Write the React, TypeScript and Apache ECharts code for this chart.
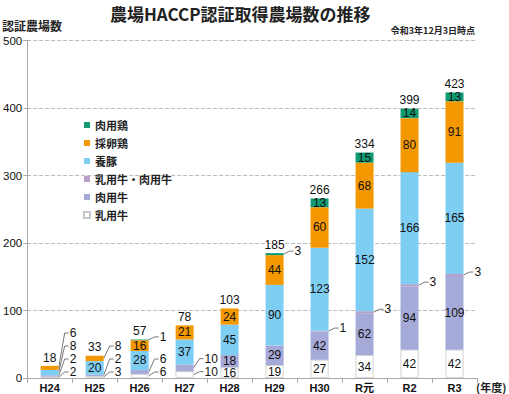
import React, { useEffect, useRef } from 'react';
import * as echarts from 'echarts';

const categories = ['H24', 'H25', 'H26', 'H27', 'H28', 'H29', 'H30', 'R元', 'R2', 'R3'];
const dairy = [2, 3, 6, 10, 16, 19, 27, 34, 42, 42]; // 乳用牛
const beef = [2, 2, 6, 10, 18, 29, 42, 62, 94, 109]; // 肉用牛
const dairyBeef = [0, 0, 0, 0, 0, 0, 1, 3, 3, 3]; // 乳用牛・肉用牛
const pig = [8, 20, 28, 37, 45, 90, 123, 152, 166, 165]; // 養豚
const layer = [6, 8, 16, 21, 24, 44, 60, 68, 80, 91]; // 採卵鶏
const broiler = [0, 0, 1, 0, 0, 3, 13, 15, 14, 13]; // 肉用鶏
const totals = [18, 33, 57, 78, 103, 185, 266, 334, 399, 423];
const yMin = 0;
const yMax = 500;
const yInterval = 100;

const FONT = '"Liberation Sans", "Noto Sans CJK JP", sans-serif';
const JP = '"Noto Sans CJK JP", sans-serif';
const BAR_W = 18;
const INSIDE_MIN = 12;
const NUM_SIZE = 12;

const stackDefs = [
  { name: '乳用牛', data: dairy, color: '#ffffff', border: '#c8c8c8' },
  { name: '肉用牛', data: beef, color: '#a5aad8' },
  { name: '乳用牛・肉用牛', data: dairyBeef, color: '#b9a0c9' },
  { name: '養豚', data: pig, color: '#7ecef4' },
  { name: '採卵鶏', data: layer, color: '#f39800' },
  { name: '肉用鶏', data: broiler, color: '#109b73' },
];

export default function App() {
  const ref = useRef<HTMLDivElement>(null);
  useEffect(() => {
    document.body.style.margin = '0';
    if (!ref.current) return;
    const chart = echarts.init(ref.current, undefined, { renderer: 'svg' });
    const series: any[] = stackDefs.map((d) => ({
      name: d.name,
      type: 'bar',
      stack: 'total',
      barWidth: BAR_W,
      data: d.data,
      itemStyle: d.border
        ? { color: d.color, borderColor: d.border, borderWidth: 0.8 }
        : { color: d.color },
      label: {
        show: true,
        position: 'inside',
        color: '#111',
        fontSize: NUM_SIZE,
        lineHeight: 10.5,
        fontFamily: FONT,
        formatter: (p: any) => (p.value >= INSIDE_MIN ? String(p.value) : ''),
      },
    }));
    series.push({
      name: '合計',
      type: 'bar',
      stack: 'total',
      barWidth: BAR_W,
      data: totals.map(() => 0),
      itemStyle: { color: 'transparent' },
      label: {
        show: true,
        position: 'top',
        distance: 3,
        color: '#111',
        fontSize: NUM_SIZE,
        lineHeight: 10.5,
        fontFamily: FONT,
        formatter: (p: any) => String(totals[p.dataIndex]),
      },
    });

    chart.setOption({
      animation: false,
      title: {
        text: '農場HACCP認証取得農場数の推移',
        left: 105,
        top: 0,
        textStyle: { fontSize: 17, fontWeight: 'bold', color: '#222', fontFamily: JP },
      },
      legend: {
        orient: 'vertical',
        left: 78,
        top: 113,
        data: ['肉用鶏', '採卵鶏', '養豚', '乳用牛・肉用牛', '肉用牛', '乳用牛'],
        icon: 'rect',
        itemWidth: 6,
        itemHeight: 6,
        itemGap: 4,
        textStyle: { fontSize: 11, fontWeight: 'bold', color: '#222', fontFamily: JP, lineHeight: 14 },
      },
      grid: { left: 23, right: 32, top: 40.5, bottom: 16, containLabel: false },
      xAxis: {
        type: 'category',
        data: categories,
        axisLine: { lineStyle: { color: '#aaa' } },
        axisTick: { show: true, length: 5, lineStyle: { color: '#aaa' } },
        axisLabel: { color: '#111', fontSize: 11, fontWeight: 'bold', fontFamily: FONT, margin: 4 },
      },
      yAxis: {
        type: 'value',
        min: yMin,
        max: yMax,
        interval: yInterval,
        axisLine: { show: true, lineStyle: { color: '#aaa' } },
        axisTick: { show: true, length: 4, lineStyle: { color: '#aaa' } },
        axisLabel: { color: '#111', fontSize: 11.5, fontFamily: FONT, margin: 5 },
        splitLine: { lineStyle: { color: '#bbb', type: 'dashed' } },
      },
      series,
    });

    // leader lines for small segments
    const graphics: any[] = [];
    const toPx = (i: number, v: number) =>
      chart.convertToPixel({ xAxisIndex: 0, yAxisIndex: 0 }, [i, v]) as number[];
    categories.forEach((_, i) => {
      const [cx, zeroY] = toPx(i, 0);
      const right = cx + BAR_W / 2;
      let cum = 0;
      let prevY: number | null = null;
      stackDefs.forEach((d) => {
        const v = d.data[i];
        if (v > 0 && v < INSIDE_MIN) {
          const mid = toPx(i, cum + v / 2)[1];
          const ly = Math.min(mid - 3, prevY == null ? zeroY - 6 : prevY - 13);
          prevY = ly;
          graphics.push({
            type: 'polyline',
            silent: true,
            shape: { points: [[right, mid], [right + 6, ly], [right + 10, ly]] },
            style: { stroke: '#555', lineWidth: 0.8, fill: 'none' },
          });
          graphics.push({
            type: 'text',
            silent: true,
            x: right + 11,
            y: ly,
            style: {
              text: String(v),
              fontSize: NUM_SIZE,
              lineHeight: 10.5,
              fontFamily: FONT,
              fill: '#111',
              align: 'left',
              verticalAlign: 'middle',
            },
          });
        }
        cum += v;
      });
    });
    graphics.push(
      {
        type: 'text',
        left: 2,
        top: 19,
        style: { text: '認証農場数', fontSize: 12, fontWeight: 'bold', fill: '#222', fontFamily: JP },
      },
      {
        type: 'text',
        right: 34,
        top: 26,
        style: { text: '令和3年12月3日時点', fontSize: 9, fontWeight: 'bold', fill: '#222', fontFamily: JP },
      },
      {
        type: 'text',
        left: 476,
        top: 381,
        style: { text: '(年度)', fontSize: 11, fontWeight: 'bold', fill: '#222', fontFamily: JP },
      }
    );
    chart.setOption({ graphic: graphics });

    return () => chart.dispose();
  }, []);
  return <div ref={ref} style={{ width: 509, height: 394 }} />;
}
